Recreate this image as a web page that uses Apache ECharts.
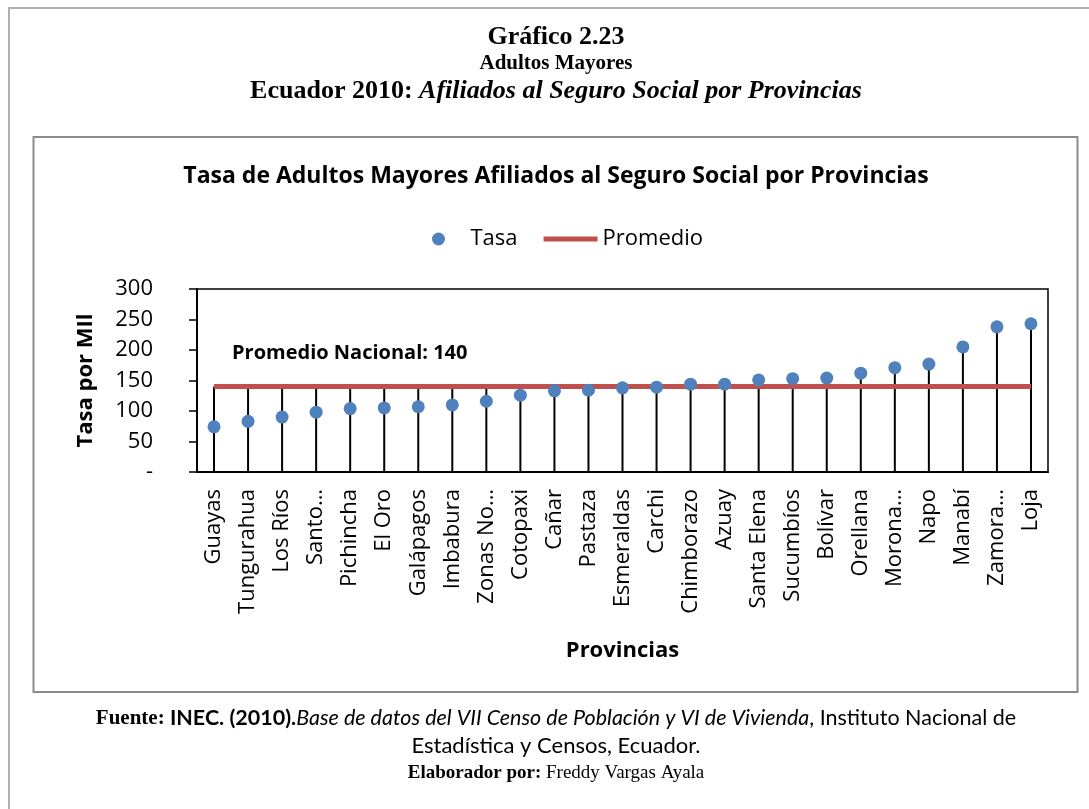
<!DOCTYPE html>
<html><head><meta charset="utf-8">
<script src="https://cdn.jsdelivr.net/npm/echarts@6/dist/echarts.min.js"></script>
<style>html,body{margin:0;padding:0;background:#fff}#c{width:1089px;height:809px}</style>
</head><body><div id="c"></div>
<script>
const provincias = ['Guayas','Tungurahua','Los Ríos','Santo…','Pichincha','El Oro','Galápagos','Imbabura','Zonas No…','Cotopaxi','Cañar','Pastaza','Esmeraldas','Carchi','Chimborazo','Azuay','Santa Elena','Sucumbíos','Bolívar','Orellana','Morona…','Napo','Manabí','Zamora…','Loja'];
const tasa = [74, 83, 90, 98, 104, 105, 107, 110, 116, 126, 133, 134, 138, 139, 144, 144, 151, 153, 154, 162, 171, 177, 205, 238, 243];
const promedioNacional = 140;
const yTicks = [0, 50, 100, 150, 200, 250, 300];

const promedio = provincias.map(() => promedioNacional);
const stems = tasa.map(v => Math.max(v, promedioNacional));

const SANS = '"Open Sans", sans-serif';
const SERIF = '"Liberation Serif", "Times New Roman", serif';
const CAL = 'Lato, "Open Sans", sans-serif';
const CX = 556;

const chart = echarts.init(document.getElementById('c'), null, {renderer: 'canvas'});
chart.setOption({
  backgroundColor: '#fff',
  animation: false,
  title: [
    {text: 'Gráfico 2.23', left: CX, textAlign: 'center', top: 23, padding: 0,
     textStyle: {fontFamily: SERIF, fontWeight: 'bold', fontSize: 26, lineHeight: 28, color: '#000'}},
    {text: 'Adultos Mayores', left: CX, textAlign: 'center', top: 52, padding: 0,
     textStyle: {fontFamily: SERIF, fontWeight: 'bold', fontSize: 21, lineHeight: 24, color: '#000'}},
    {text: '{a|Ecuador 2010: }{b|Afiliados al Seguro Social por Provincias}', left: CX, textAlign: 'center', top: 77, padding: 0,
     textStyle: {fontWeight: 'bold', rich: {
       a: {fontFamily: SERIF, fontWeight: 'bold', fontSize: 26, lineHeight: 28, color: '#000'},
       b: {fontFamily: SERIF, fontWeight: 'bold', fontStyle: 'italic', fontSize: 26, lineHeight: 28, color: '#000'}}}},
    {text: 'Tasa de Adultos Mayores Afiliados al Seguro Social por Provincias', left: CX, textAlign: 'center', top: 162, padding: 0,
     textStyle: {fontFamily: SANS, fontWeight: 'bold', fontSize: 23, lineHeight: 28, color: '#000'}},
    {text: '{fb|Fuente: }{cb|INEC. (2010).}{ci|Base de datos del VII Censo de Población y VI de Vivienda}{c|, Instituto Nacional de}',
     left: CX, textAlign: 'center', top: 703, padding: 0,
     textStyle: {fontWeight: 'normal', rich: {
       fb: {fontFamily: SERIF, fontWeight: 'bold', fontSize: 21, lineHeight: 26, verticalAlign: 'bottom', padding: [0, 0, 0, 0], color: '#000'},
       cb: {fontFamily: CAL, fontWeight: 'bold', fontSize: 21.5, lineHeight: 26, verticalAlign: 'bottom', color: '#000'},
       ci: {fontFamily: CAL, fontWeight: 'normal', fontStyle: 'italic', fontSize: 21.5, lineHeight: 26, verticalAlign: 'bottom', color: '#000'},
       c: {fontFamily: CAL, fontWeight: 'normal', fontSize: 21.5, lineHeight: 26, verticalAlign: 'bottom', color: '#000'}}}},
    {text: 'Estadística y Censos, Ecuador.', left: CX, textAlign: 'center', top: 733, padding: 0,
     textStyle: {fontFamily: CAL, fontWeight: 'normal', fontSize: 22, lineHeight: 26, color: '#000'}},
    {text: '{tb|Elaborador por: }{t|Freddy Vargas Ayala}', left: CX, textAlign: 'center', top: 760, padding: 0,
     textStyle: {fontWeight: 'normal', rich: {
       tb: {fontFamily: SERIF, fontWeight: 'bold', fontSize: 19, lineHeight: 26, color: '#000'},
       t: {fontFamily: SERIF, fontWeight: 'normal', fontSize: 19, lineHeight: 26, color: '#000'}}}}
  ],
  legend: {
    data: [
      {name: 'Tasa', icon: 'circle'},
      {name: 'Promedio', icon: 'path://M0,0 L54,0 L54,5 L0,5 Z', itemStyle: {color: '#C0504D'}}
    ],
    left: 427, top: 223, itemGap: 26, itemWidth: 54, itemHeight: 13,
    textStyle: {fontFamily: SANS, fontSize: 22, color: '#000'}
  },
  graphic: [
    {type: 'rect', shape: {x: 9, y: 8, width: 1200, height: 900}, style: {fill: 'none', stroke: '#b0b0b0', lineWidth: 2}, silent: true, z: -10},
    {type: 'rect', shape: {x: 33.5, y: 137, width: 1044, height: 555}, style: {fill: 'none', stroke: '#8c8c8c', lineWidth: 2}, silent: true, z: -10},
    {type: 'text', left: 232, top: 343, style: {text: 'Promedio Nacional: ' + promedioNacional, font: 'bold 20px "Open Sans", sans-serif', fill: '#000'}}
  ],
  grid: {left: 197, right: 41, top: 289, bottom: 337, show: true, borderColor: '#000', borderWidth: 1.5, backgroundColor: 'transparent'},
  xAxis: {
    type: 'category', data: provincias, boundaryGap: true,
    axisLine: {lineStyle: {color: '#000', width: 2}},
    axisTick: {show: false},
    axisLabel: {rotate: 90, interval: 0, margin: 17, fontFamily: SANS, fontSize: 22, color: '#000'},
    name: 'Provincias', nameLocation: 'middle', nameGap: 168,
    nameTextStyle: {fontFamily: SANS, fontWeight: 'bold', fontSize: 22, color: '#000'}
  },
  yAxis: {
    type: 'value', min: yTicks[0], max: yTicks[yTicks.length - 1], interval: 50,
    axisLine: {show: true, lineStyle: {color: '#000', width: 2}},
    axisTick: {show: true, length: 8, lineStyle: {color: '#000', width: 1.5}},
    splitLine: {show: false},
    axisLabel: {margin: 44, fontFamily: SANS, fontSize: 22, color: '#000',
      formatter: v => v === 0 ? '-' : String(v)},
    name: 'Tasa por MIl', nameLocation: 'middle', nameGap: 100, nameRotate: 90,
    nameTextStyle: {fontFamily: SANS, fontWeight: 'bold', fontSize: 22, color: '#000'}
  },
  series: [
    {name: 'stems', type: 'bar', data: stems, barWidth: 2, itemStyle: {color: '#000'}, silent: true, z: 1},
    {name: 'Promedio', type: 'line', data: promedio, symbol: 'none', showSymbol: false,
     lineStyle: {color: '#C0504D', width: 5}, itemStyle: {color: '#C0504D'}, z: 2},
    {name: 'Tasa', type: 'scatter', data: tasa, symbolSize: 13, itemStyle: {color: '#4F81BD', opacity: 1}, z: 3}
  ]
});
</script></body></html>
